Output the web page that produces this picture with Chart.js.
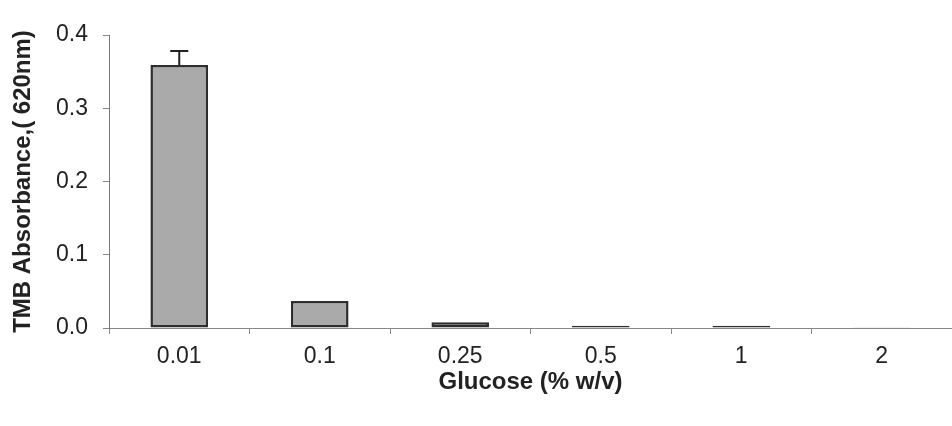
<!DOCTYPE html>
<html>
<head>
<meta charset="utf-8">
<script src="https://cdn.jsdelivr.net/npm/chart.js@4.4.1/dist/chart.umd.min.js"></script>
<style>
  html, body { margin: 0; padding: 0; background: #fff; }
  #wrap { width: 952px; height: 426px; }
</style>
</head>
<body>
<div id="wrap"><canvas id="chart"></canvas></div>
<script>
const glucose = ["0.01", "0.1", "0.25", "0.5", "1", "2"];
const absorbance = [0.359, 0.037, 0.008, 0.003, 0.003, 0.001];
const errorPlus = [0.019, 0, 0, 0, 0, 0];
const yTicks = [0, 0.1, 0.2, 0.3, 0.4];

// draws the upper error bar for each bar using the chart scales
const errorBars = {
  id: "errorBars",
  afterDatasetsDraw(chart) {
    const ctx = chart.ctx;
    const y = chart.scales.y;
    const meta = chart.getDatasetMeta(0);
    ctx.save();
    ctx.strokeStyle = "#222";
    ctx.lineWidth = 2;
    meta.data.forEach((bar, i) => {
      if (!errorPlus[i]) return;
      const top = y.getPixelForValue(absorbance[i] + errorPlus[i]);
      const base = y.getPixelForValue(absorbance[i]);
      ctx.beginPath();
      ctx.moveTo(bar.x, base);
      ctx.lineTo(bar.x, top);
      ctx.moveTo(bar.x - 9, top);
      ctx.lineTo(bar.x + 9, top);
      ctx.stroke();
    });
    ctx.restore();
  },
};

new Chart(document.getElementById("chart"), {
  type: "bar",
  data: {
    labels: glucose,
    datasets: [
      {
        data: absorbance,
        backgroundColor: "#aaaaaa",
        borderColor: "#2e2e2e",
        borderWidth: 2.5,
        borderSkipped: false,
        barPercentage: 0.41,
        categoryPercentage: 1,
      },
    ],
  },
  options: {
    responsive: true,
    maintainAspectRatio: false,
    animation: false,
    layout: {
      padding: { left: 5, top: 35, right: 0, bottom: 25 },
    },
    plugins: {
      legend: { display: false },
      tooltip: { enabled: false },
    },
    scales: {
      x: {
        grid: {
          display: true,
          drawOnChartArea: false,
          drawTicks: true,
          tickLength: 6,
          color: "#888",
          offset: true,
        },
        border: { color: "#888", width: 1 },
        ticks: {
          color: "#222",
          padding: 9,
          font: { family: "Liberation Sans, Arial", size: 23 },
        },
        title: {
          display: true,
          text: "Glucose (% w/v)",
          color: "#222",
          font: { family: "Liberation Sans, Arial", size: 24, weight: "bold" },
        },
        afterFit: (scale) => {
          scale.height = 73;
        },
      },
      y: {
        min: 0,
        max: 0.4,
        afterBuildTicks: (scale) => {
          scale.ticks = yTicks.map((v) => ({ value: v }));
        },
        grid: {
          display: true,
          drawOnChartArea: false,
          drawTicks: true,
          tickLength: 6,
          color: "#888",
        },
        border: { color: "#777", width: 1 },
        ticks: {
          color: "#222",
          padding: 15,
          font: { family: "Liberation Sans, Arial", size: 23 },
          callback: (v) => Number(v).toFixed(1),
        },
        title: {
          display: true,
          text: "TMB Absorbance,( 620nm)",
          color: "#222",
          font: { family: "Liberation Sans, Arial", size: 24, weight: "bold" },
        },
        afterFit: (scale) => {
          scale.width = 104;
        },
      },
    },
  },
  plugins: [errorBars],
});
</script>
</body>
</html>
